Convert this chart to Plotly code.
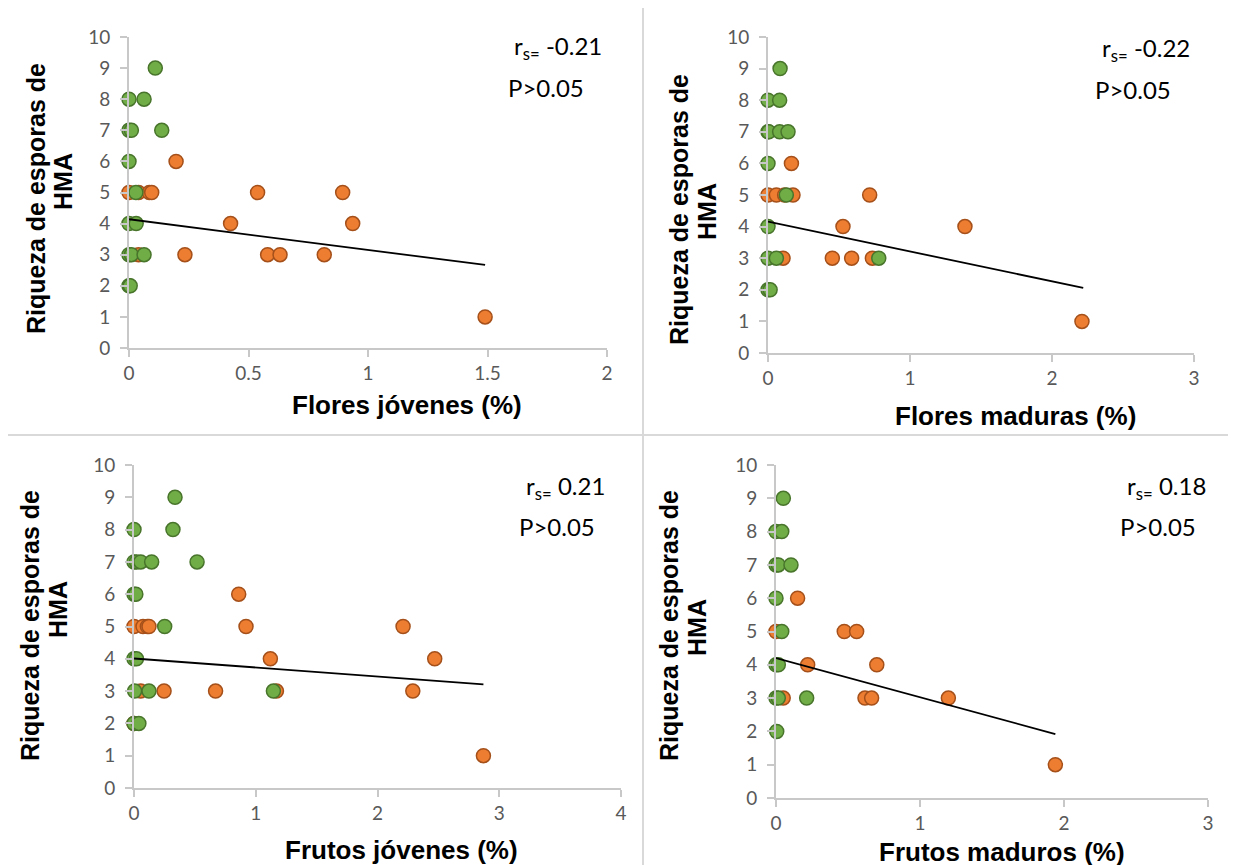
import plotly.graph_objects as go

W, H = 1236, 865
PAGE_OFFSET = 8  # the page body adds an 8px margin around the figure

# ---------------- data ----------------
# Panel 1: Flores jóvenes (%)
p1_green_x = [0.11, 0.0, 0.063, 0.0, 0.01, 0.137, 0.0, 0.029, 0.0, 0.03, 0.0, 0.01, 0.063, 0.0, 0.005]
p1_green_y = [9, 8, 8, 7, 7, 7, 6, 5, 4, 4, 3, 3, 3, 2, 2]
p1_orange_x = [0.197, 0.0, 0.04, 0.085, 0.095, 0.538, 0.894, 0.425, 0.936, 0.04, 0.234, 0.58, 0.632, 0.817, 1.49]
p1_orange_y = [6, 5, 5, 5, 5, 5, 5, 4, 4, 3, 3, 3, 3, 3, 1]
p1_trend_x = [0, 1.49]
p1_trend_y = [4.14, 2.67]

# Panel 2: Flores maduras (%)
p2_green_x = [0.085, 0.0, 0.082, 0.0, 0.005, 0.082, 0.141, 0.0, 0.129, 0.0, 0.0, 0.059, 0.78, 0.0, 0.015]
p2_green_y = [9, 8, 8, 7, 7, 7, 7, 6, 5, 4, 3, 3, 3, 2, 2]
p2_orange_x = [0.165, 0.0, 0.059, 0.117, 0.176, 0.716, 0.528, 1.387, 0.106, 0.453, 0.589, 0.735, 2.211]
p2_orange_y = [6, 5, 5, 5, 5, 5, 4, 4, 3, 3, 3, 3, 1]
p2_trend_x = [0, 2.22]
p2_trend_y = [4.16, 2.06]

# Panel 3: Frutos jóvenes (%)
p3_green_x = [0.337, 0.0, 0.32, 0.0, 0.02, 0.055, 0.145, 0.518, 0.0, 0.015, 0.252, 0.0, 0.02, 0.005, 0.123, 1.145, 0.0, 0.04]
p3_green_y = [9, 8, 8, 7, 7, 7, 7, 7, 6, 6, 5, 4, 4, 3, 3, 3, 2, 2]
p3_orange_x = [0.86, 0.0, 0.074, 0.11, 0.123, 0.92, 2.21, 1.12, 2.47, 0.055, 0.247, 0.67, 1.17, 2.29, 0.0, 2.87]
p3_orange_y = [6, 5, 5, 5, 5, 5, 5, 4, 4, 3, 3, 3, 3, 3, 2, 1]
p3_trend_x = [0, 2.87]
p3_trend_y = [4.01, 3.21]

# Panel 4: Frutos maduros (%)
p4_green_x = [0.051, 0.0, 0.04, 0.0, 0.016, 0.104, 0.0, 0.04, 0.0, 0.016, 0.0, 0.016, 0.213, 0.005]
p4_green_y = [9, 8, 8, 7, 7, 7, 6, 5, 4, 4, 3, 3, 3, 2]
p4_orange_x = [0.15, 0.0, 0.474, 0.56, 0.22, 0.70, 0.05, 0.618, 0.664, 1.197, 1.94]
p4_orange_y = [6, 5, 5, 5, 4, 4, 3, 3, 3, 3, 1]
p4_trend_x = [0, 1.94]
p4_trend_y = [4.2, 1.92]

x_titles = ["Flores jóvenes (%)", "Flores maduras (%)", "Frutos jóvenes (%)", "Frutos maduros (%)"]
y_title_lines = ["Riqueza de esporas de", "HMA"]
rs_values = ["-0.21", "-0.22", "0.21", "0.18"]
p_text = "P>0.05"
x_max = [2, 3, 4, 3]
x_dtick = [0.5, 1, 1, 1]
y_ticks = list(range(0, 11))

# ---------------- layout geometry (screen pixels) ----------------
plot_boxes = [  # x0, x1, ytop, ybottom
    (129, 607, 37, 348),
    (768, 1194, 37, 353),
    (134, 621, 465, 788),
    (776, 1208, 465, 798),
]
xtitle_pos = [(407, 405), (1015, 416), (401, 850), (1002, 852)]
ytitle1_pos = [(36, 199), (679, 210), (30, 626), (669, 625)]
ytitle2_pos = [(63, 182), (707, 212), (58, 610), (697, 628)]
rs_pos = [(512, 47), (1100, 50), (524, 487), (1125, 487)]
p_pos = [(506, 87), (1093, 90), (517, 526), (1118, 526)]

def px(x):
    return (x - PAGE_OFFSET) / W

def py(y):
    return 1 - (y - PAGE_OFFSET) / H

GREEN, GREEN_LINE = "#70AD47", "#48752B"
ORANGE, ORANGE_LINE = "#ED7D31", "#A5501A"
AXIS = "#c8c8c8"
TICK_FONT = dict(family="Lato, Carlito, sans-serif", size=19, color="#595959")
XTITLE_FONT = dict(family="Liberation Sans, Arial, sans-serif", size=26, color="#000000")
YTITLE_FONT = dict(family="Liberation Sans, Arial, sans-serif", size=25, color="#000000")
ANN_FONT = dict(family="Lato, Carlito, sans-serif", size=24, color="#000000")

panels = [
    (p1_green_x, p1_green_y, p1_orange_x, p1_orange_y, p1_trend_x, p1_trend_y),
    (p2_green_x, p2_green_y, p2_orange_x, p2_orange_y, p2_trend_x, p2_trend_y),
    (p3_green_x, p3_green_y, p3_orange_x, p3_orange_y, p3_trend_x, p3_trend_y),
    (p4_green_x, p4_green_y, p4_orange_x, p4_orange_y, p4_trend_x, p4_trend_y),
]

fig = go.Figure()
layout = dict(
    width=W, height=H,
    margin=dict(l=0, r=0, t=0, b=0, pad=0),
    paper_bgcolor="white", plot_bgcolor="white",
    showlegend=False,
)
annotations = []
shapes = []

for i, (gx, gy, ox, oy, tx, ty) in enumerate(panels):
    n = "" if i == 0 else str(i + 1)
    xa, ya = "x" + n, "y" + n
    fig.add_trace(go.Scatter(
        x=ox, y=oy, mode="markers", xaxis=xa, yaxis=ya, cliponaxis=False,
        marker=dict(size=14, color=ORANGE, line=dict(color=ORANGE_LINE, width=1.5)),
    ))
    fig.add_trace(go.Scatter(
        x=gx, y=gy, mode="markers", xaxis=xa, yaxis=ya, cliponaxis=False,
        marker=dict(size=14, color=GREEN, line=dict(color=GREEN_LINE, width=1.5)),
    ))
    fig.add_trace(go.Scatter(
        x=tx, y=ty, mode="lines", xaxis=xa, yaxis=ya, cliponaxis=False,
        line=dict(color="black", width=1.8),
    ))
    x0, x1, yt, yb = plot_boxes[i]
    layout["xaxis" + n] = dict(
        domain=[px(x0), px(x1)], anchor=ya, range=[0, x_max[i]],
        tick0=0, dtick=x_dtick[i], showgrid=False, zeroline=False, automargin=False,
        showline=True, linecolor=AXIS, linewidth=2,
        ticks="outside", ticklen=7, tickcolor=AXIS, tickwidth=2,
        tickfont=TICK_FONT, ticklabelstandoff=0,
    )
    layout["yaxis" + n] = dict(
        domain=[py(yb), py(yt)], anchor=xa, range=[0, 10],
        tickvals=y_ticks, showgrid=False, zeroline=False, automargin=False,
        showline=True, linecolor=AXIS, linewidth=2,
        ticks="outside", ticklen=7, tickcolor=AXIS, tickwidth=2,
        tickfont=TICK_FONT, ticklabelstandoff=6,
    )
    # axis titles
    annotations.append(dict(
        text="<b>%s</b>" % x_titles[i], x=px(xtitle_pos[i][0]), y=py(xtitle_pos[i][1]),
        xref="paper", yref="paper", showarrow=False, font=XTITLE_FONT,
        xanchor="center", yanchor="middle",
    ))
    for line_text, pos in zip(y_title_lines, (ytitle1_pos[i], ytitle2_pos[i])):
        annotations.append(dict(
            text="<b>%s</b>" % line_text, x=px(pos[0]), y=py(pos[1]),
            xref="paper", yref="paper", showarrow=False, font=YTITLE_FONT, textangle=-90,
            xanchor="center", yanchor="middle",
        ))
    # statistics
    annotations.append(dict(
        text="r<sub>s=</sub> %s" % rs_values[i], x=px(rs_pos[i][0]), y=py(rs_pos[i][1]),
        xref="paper", yref="paper", showarrow=False, font=ANN_FONT,
        xanchor="left", yanchor="middle",
    ))
    annotations.append(dict(
        text=p_text, x=px(p_pos[i][0]), y=py(p_pos[i][1]),
        xref="paper", yref="paper", showarrow=False, font=ANN_FONT,
        xanchor="left", yanchor="middle",
    ))

# panel separator lines
BORDER = dict(color="#d9d9d9", width=2)
for (xa0, ya0, xa1, ya1) in [(8, 7, 1244, 7), (4, 7, 4, 873), (643, 7, 643, 873), (8, 435, 1244, 435)]:
    shapes.append(dict(type="line", xref="paper", yref="paper",
                       x0=px(xa0), y0=py(ya0), x1=px(xa1), y1=py(ya1), line=BORDER, layer="below"))

layout["annotations"] = annotations
layout["shapes"] = shapes
fig.update_layout(**layout)
fig.write_html("out.html")
